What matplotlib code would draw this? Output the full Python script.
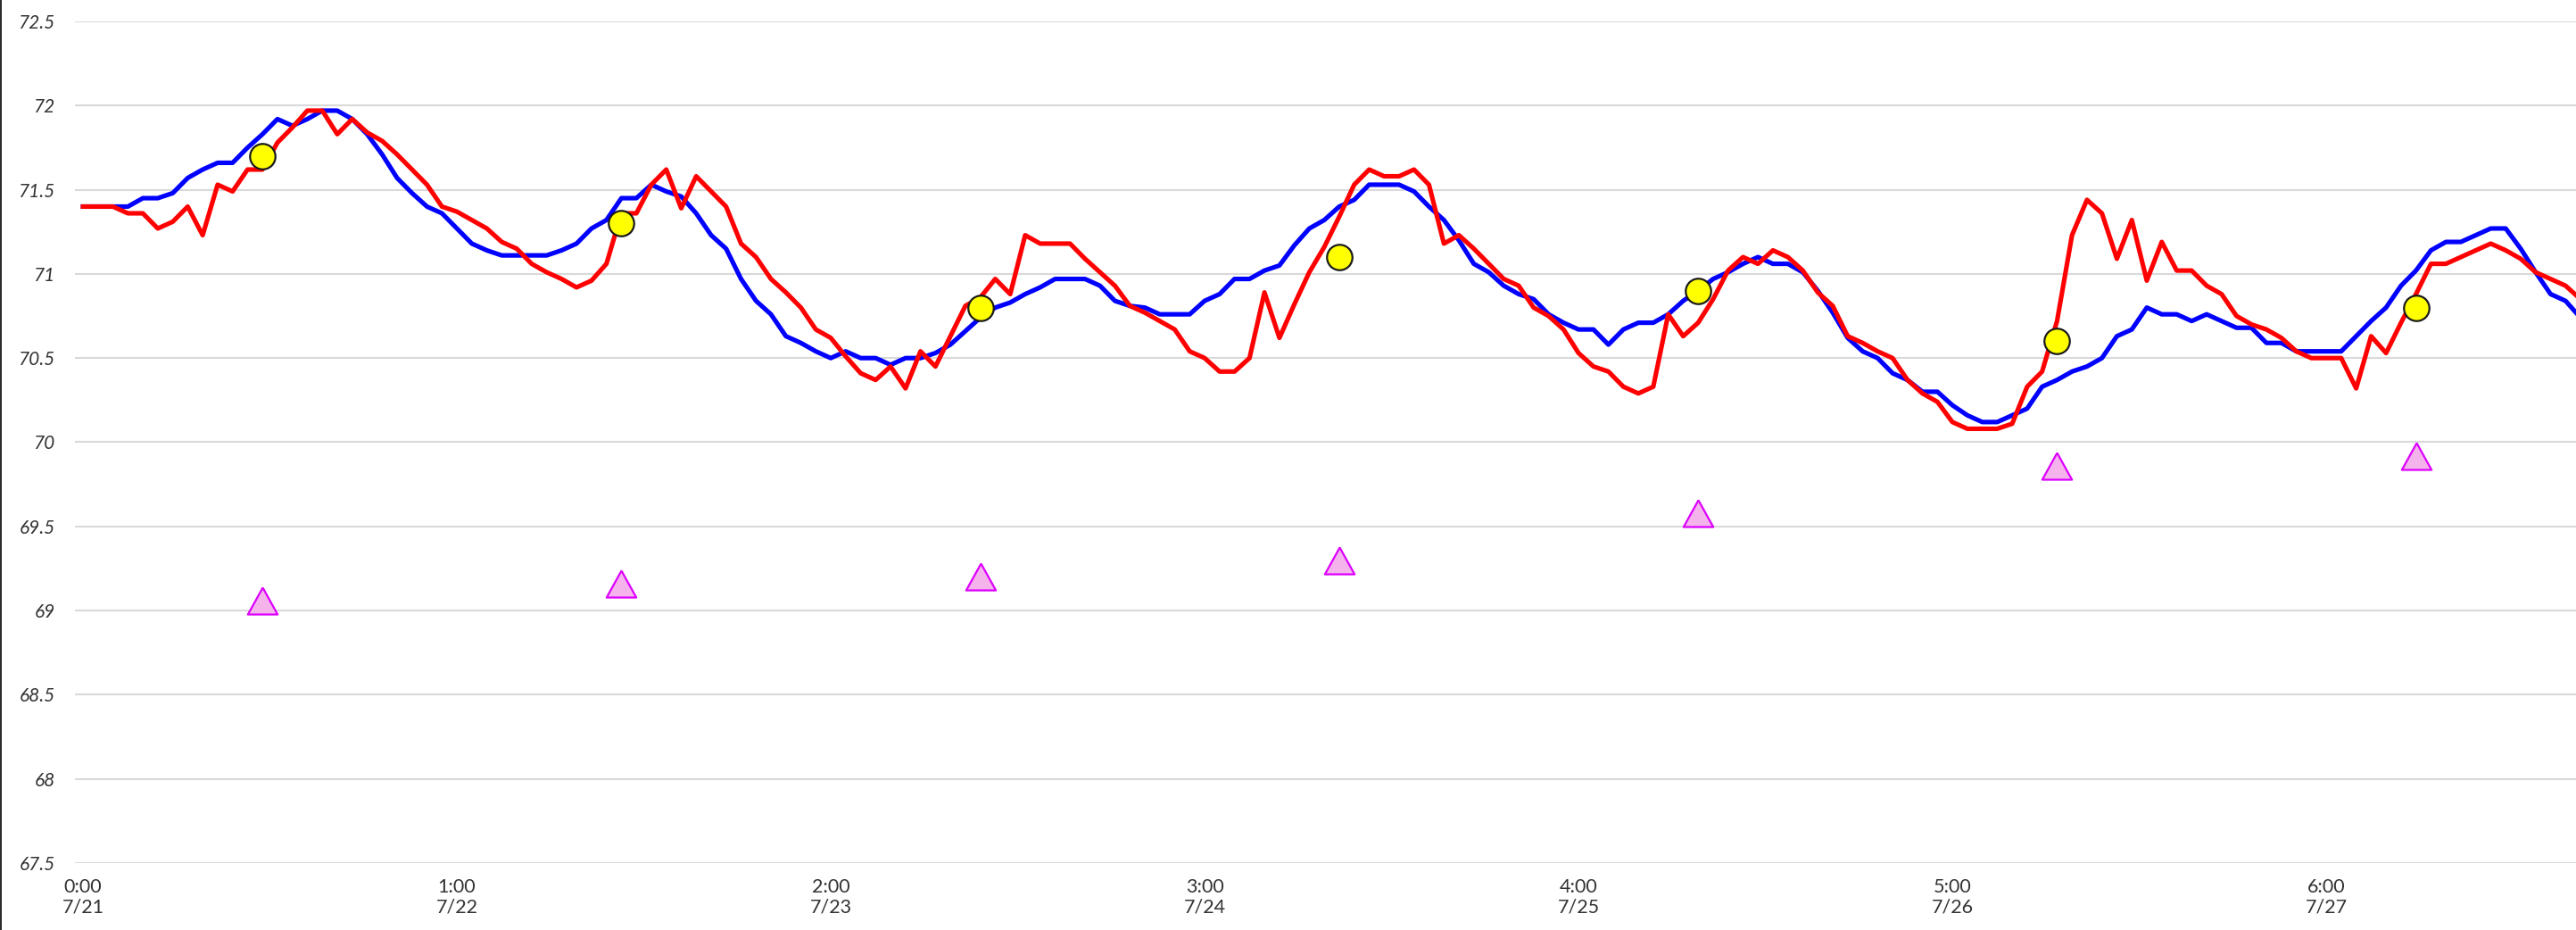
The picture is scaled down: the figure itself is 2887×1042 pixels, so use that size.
import numpy as np
import pandas as pd
import matplotlib
matplotlib.use("Agg")
import matplotlib.pyplot as plt
from matplotlib.lines import Line2D

# hourly readings starting 7/21 0:00
red = [71.40, 71.40, 71.40, 71.36, 71.36, 71.27, 71.31, 71.40, 71.23, 71.53,
       71.49, 71.62, 71.62, 71.78, 71.87, 71.97, 71.97, 71.83, 71.92, 71.84,
       71.79, 71.71, 71.62, 71.53, 71.40, 71.37, 71.32, 71.27, 71.19, 71.15,
       71.06, 71.01, 70.97, 70.92, 70.96, 71.06, 71.36, 71.36, 71.53, 71.62,
       71.39, 71.58, 71.49, 71.40, 71.18, 71.10, 70.97, 70.89, 70.80, 70.67,
       70.62, 70.51, 70.41, 70.37, 70.45, 70.32, 70.54, 70.45, 70.63, 70.81,
       70.86, 70.97, 70.88, 71.23, 71.18, 71.18, 71.18, 71.09, 71.01, 70.93,
       70.81, 70.77, 70.72, 70.67, 70.54, 70.50, 70.42, 70.42, 70.50, 70.89,
       70.62, 70.82, 71.01, 71.16, 71.34, 71.53, 71.62, 71.58, 71.58, 71.62,
       71.53, 71.18, 71.23, 71.15, 71.06, 70.97, 70.93, 70.80, 70.75, 70.67,
       70.53, 70.45, 70.42, 70.33, 70.29, 70.33, 70.76, 70.63, 70.71, 70.85,
       71.02, 71.10, 71.06, 71.14, 71.10, 71.02, 70.89, 70.81, 70.63, 70.59,
       70.54, 70.50, 70.37, 70.29, 70.24, 70.12, 70.08, 70.08, 70.08, 70.11,
       70.33, 70.42, 70.72, 71.23, 71.44, 71.36, 71.09, 71.32, 70.96, 71.19,
       71.02, 71.02, 70.93, 70.88, 70.75, 70.70, 70.67, 70.62, 70.54, 70.50,
       70.50, 70.50, 70.32, 70.63, 70.53, 70.71, 70.88, 71.06, 71.06, 71.10,
       71.14, 71.18, 71.14, 71.09, 71.01, 70.97, 70.93, 70.85]

blue = [71.40, 71.40, 71.40, 71.40, 71.45, 71.45, 71.48, 71.57, 71.62, 71.66,
        71.66, 71.75, 71.83, 71.92, 71.88, 71.92, 71.97, 71.97, 71.92, 71.83,
        71.71, 71.57, 71.48, 71.40, 71.36, 71.27, 71.18, 71.14, 71.11, 71.11,
        71.11, 71.11, 71.14, 71.18, 71.27, 71.32, 71.45, 71.45, 71.53, 71.49,
        71.46, 71.36, 71.23, 71.15, 70.97, 70.84, 70.76, 70.63, 70.59, 70.54,
        70.50, 70.54, 70.50, 70.50, 70.46, 70.50, 70.50, 70.53, 70.58, 70.66,
        70.74, 70.80, 70.83, 70.88, 70.92, 70.97, 70.97, 70.97, 70.93, 70.84,
        70.81, 70.80, 70.76, 70.76, 70.76, 70.84, 70.88, 70.97, 70.97, 71.02,
        71.05, 71.17, 71.27, 71.32, 71.40, 71.44, 71.53, 71.53, 71.53, 71.49,
        71.40, 71.32, 71.20, 71.06, 71.01, 70.93, 70.88, 70.85, 70.76, 70.71,
        70.67, 70.67, 70.58, 70.67, 70.71, 70.71, 70.76, 70.84, 70.90, 70.97,
        71.01, 71.06, 71.10, 71.06, 71.06, 71.01, 70.90, 70.77, 70.62, 70.54,
        70.50, 70.41, 70.37, 70.30, 70.30, 70.22, 70.16, 70.12, 70.12, 70.16,
        70.20, 70.33, 70.37, 70.42, 70.45, 70.50, 70.63, 70.67, 70.80, 70.76,
        70.76, 70.72, 70.76, 70.72, 70.68, 70.68, 70.59, 70.59, 70.54, 70.54,
        70.54, 70.54, 70.63, 70.72, 70.80, 70.93, 71.02, 71.14, 71.19, 71.19,
        71.23, 71.27, 71.27, 71.15, 71.01, 70.88, 70.84, 70.74]

# daily noon readings
circle_vals = [71.7, 71.3, 70.8, 71.1, 70.9, 70.6, 70.8]
triangle_vals = [69.06, 69.16, 69.20, 69.30, 69.58, 69.86, 69.92]

start = pd.Timestamp("2021-07-21 00:00")
times = pd.date_range(start, periods=len(red), freq="h")
noon_times = pd.date_range(start + pd.Timedelta(hours=12), periods=len(circle_vals), freq="D")
tick_times = times[::25]

plt.rcParams["font.family"] = ["Lato", "DejaVu Sans"]

W, H = 2887, 1042
fig = plt.figure(figsize=(W / 100, H / 100), dpi=100)
ax = fig.add_axes([84 / W, 1 - 967 / H, 1 - 84 / W, (967 - 24) / H])

ax.plot(times, blue, color="#0000ff", lw=3.7, zorder=3)
ax.plot(times, red, color="#ff0000", lw=3.7, zorder=4)
ax.plot(noon_times, circle_vals, ls="none", marker="o", ms=20.5,
        mfc="#ffff00", mec="#1a1a1a", mew=1.6, zorder=5)
tri = [(0, 0.9), (-1, -0.9), (1, -0.9), (0, 0.9)]
ax.plot(noon_times, triangle_vals, ls="none", marker=tri, ms=24,
        mfc="#f5b3ec", mec="#dd00ff", mew=1.6, zorder=5)

yt = np.arange(67.5, 72.51, 0.5)
ax.set_ylim(67.5, 72.5)
ax.set_yticks(yt)
ax.set_yticklabels([f"{v:g}" for v in yt], fontstyle="italic", fontsize=15, color="#333333")
ax.set_xlim(start - pd.Timedelta(hours=0.54), start + pd.Timedelta(hours=166.7))
ax.set_xticks(tick_times)
ax.set_xticklabels([f"{t.hour}:{t.minute:02d}\n{t.month}/{t.day}" for t in tick_times],
                   fontsize=15.5, color="#333333", linespacing=1.15)

ax.grid(axis="y", color="#d9d9d9", lw=1.5)
ax.set_axisbelow(True)
for s in ax.spines.values():
    s.set_visible(False)
ax.tick_params(axis="both", length=0)
ax.tick_params(axis="y", pad=16)
ax.tick_params(axis="x", pad=12)

fig.add_artist(Line2D([0.0004, 0.0004], [0, 1], transform=fig.transFigure, color="black", lw=1.2))

fig.savefig("out.png", dpi=100)
